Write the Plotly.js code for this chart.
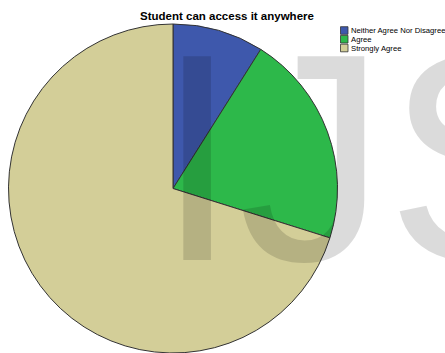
<!DOCTYPE html>
<html><head><meta charset="utf-8">
<script src="https://cdn.plot.ly/plotly-3.0.1.min.js"></script>
<style>html,body{margin:0;padding:0;background:#fff;}#chart{width:445px;height:353px;}</style>
</head><body><div id="chart"></div>
<script>
const categories = ["Neither Agree Nor Disagree", "Agree", "Strongly Agree"];
const counts = [6, 14, 47];
const sliceColors = ["#3e58ac", "#2db84a", "#d3ce98"];
const chartTitle = "Student can access it anywhere";
const watermarkText = "IJS";

const W = 445, H = 353, T = 24;
const px = x => x / W;
const py = y => 1 - (y - T) / (H - T);

const trace = {
  type: 'pie',
  labels: categories,
  values: counts,
  sort: false,
  direction: 'clockwise',
  rotation: 0,
  textinfo: 'none',
  hoverinfo: 'none',
  marker: {colors: sliceColors, line: {color: '#333333', width: 1}},
  domain: {x: [0, 346 / W], y: [0, 1]},
  showlegend: false
};

const shapes = [], annotations = [];
const rowY = [30.5, 39.2, 48];
categories.forEach((c, i) => {
  shapes.push({type: 'rect', xref: 'paper', yref: 'paper',
    x0: px(340.5), x1: px(348), y0: py(rowY[i] + 3.8), y1: py(rowY[i] - 3.8),
    fillcolor: sliceColors[i], line: {color: '#333333', width: 0.8}});
  annotations.push({xref: 'paper', yref: 'paper', x: px(349), y: py(rowY[i]),
    xanchor: 'left', yanchor: 'middle', showarrow: false, text: c,
    font: {family: 'Liberation Sans, Arial, sans-serif', size: 7.7, color: '#000'}});
});
annotations.push({xref: 'paper', yref: 'paper', x: px(154), y: py(157),
  xanchor: 'left', yanchor: 'middle', showarrow: false, text: watermarkText,
  font: {family: 'Liberation Sans, Arial, sans-serif', size: 296, color: 'rgba(0,0,0,0.14)'}});

const layout = {
  width: W, height: H,
  margin: {l: 0, r: 0, t: T, b: 0},
  paper_bgcolor: '#ffffff',
  plot_bgcolor: '#ffffff',
  showlegend: false,
  title: {text: '<b>' + chartTitle + '</b>', x: 227 / W, xanchor: 'center', xref: 'container',
    y: 1 - 15.5 / H, yanchor: 'middle', yref: 'container',
    font: {family: 'Liberation Sans, Arial, sans-serif', size: 11.5, color: '#000'}},
  shapes: shapes,
  annotations: annotations
};

Plotly.newPlot('chart', [trace], layout, {displayModeBar: false, staticPlot: true});
</script></body></html>
